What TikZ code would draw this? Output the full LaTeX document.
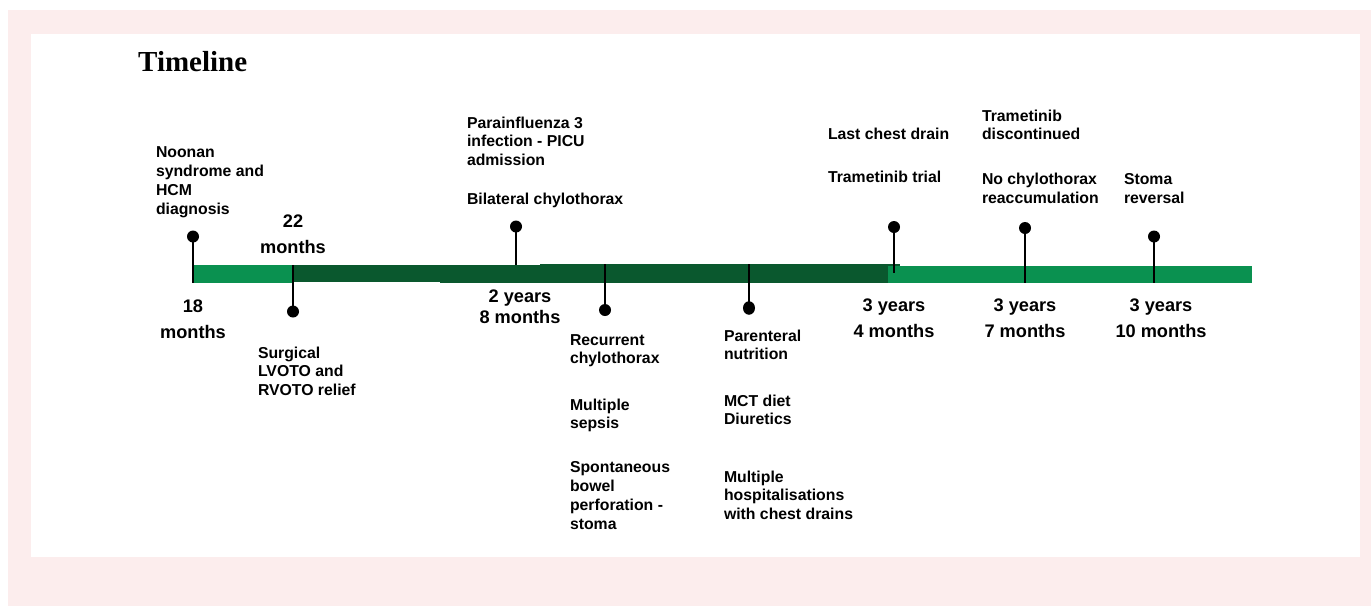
\documentclass[tikz,border=0pt]{standalone}
\usepackage{fontspec}
\usetikzlibrary{shapes.geometric}
\setmainfont{Liberation Sans}
\newfontfamily\titlefont{Liberation Serif}
\definecolor{pinkbg}{RGB}{252,237,237}
\definecolor{lightgr}{RGB}{10,145,80}
\definecolor{darkgr}{RGB}{10,88,46}
\begin{document}
\begin{tikzpicture}[x=1pt,y=-1pt,
  lbl/.style={inner sep=0pt, outer sep=0pt, align=left, anchor=base west,
    font=\bfseries\fontsize{15.8}{18.7}\selectfont},
  tlbl/.style={inner sep=0pt, outer sep=0pt, align=center, anchor=base,
    font=\bfseries\fontsize{18.2}{26}\selectfont},
  dot/.style={circle, fill=black, inner sep=0pt, minimum size=12pt},
  stem/.style={draw=black, line width=1.4pt}]
\useasboundingbox (0,0) rectangle (1371,606);
\fill[white] (0,0) rectangle (1371,606);
\fill[pinkbg] (8,10) rectangle (1371,606);
\fill[white] (31,34) rectangle (1360,557);
% title
\node[inner sep=0pt, anchor=base west, font=\titlefont\bfseries\fontsize{29}{32}\selectfont] (title) at (138,71) {Timeline};
% bar
\fill[lightgr] (192,265) rectangle (294,283);
\fill[darkgr] (293,265) rectangle (442,281.5);
\fill[darkgr] (440,265) rectangle (540,283);
\fill[darkgr] (540,263.5) rectangle (900,283);
\fill[lightgr] (888,266) rectangle (1252,283);
% dots and stems
\node[dot] (d1) at (193,236.5) {};
\coordinate (b1) at (193,283);
\node[dot] (d2) at (293,311.5) {};
\coordinate (b2) at (293,265);
\node[dot] (d3) at (516,226.5) {};
\coordinate (b3) at (516,265);
\node[dot] (d4) at (605,310) {};
\coordinate (b4) at (605,264);
\node[ellipse, fill=black, inner sep=0pt, minimum width=12pt, minimum height=13.5pt] (d5) at (749,308) {};
\coordinate (b5) at (749,264);
\node[dot] (d6) at (894,227) {};
\coordinate (b6) at (894,273);
\node[dot] (d7) at (1025,228) {};
\coordinate (b7) at (1025,283);
\node[dot] (d8) at (1154,236.5) {};
\coordinate (b8) at (1154,283);
\foreach \i in {1,...,8} {\draw[stem] (d\i.center) -- (b\i);}
% time labels (anchor = baseline of last line)
\node[tlbl] (t1) at (193,338) {18\\months};
\node[tlbl] (t2) at (293,253) {22\\months};
\node[tlbl, font=\bfseries\fontsize{18.2}{21.5}\selectfont] (t3) at (520,323.5) {2 years\\8 months};
\node[tlbl] (t6) at (894,337) {3 years\\4 months};
\node[tlbl] (t7) at (1025,337) {3 years\\7 months};
\node[tlbl] (t8) at (1161,337) {3 years\\10 months};
% event labels (anchor = baseline of last line)
\node[lbl] (e1) at (156,214) {Noonan\\syndrome and\\HCM\\diagnosis};
\node[lbl] (e2) at (258,395.4) {Surgical\\LVOTO and\\RVOTO relief};
\node[lbl] (e3a) at (467,165.4) {Parainfluenza 3\\infection - PICU\\admission};
\node[lbl] (e3b) at (467,204) {Bilateral chylothorax};
\node[lbl] (e4a) at (570,363.7) {Recurrent\\chylothorax};
\node[lbl] (e4b) at (570,428.7) {Multiple\\sepsis};
\node[lbl] (e4c) at (570,529) {Spontaneous\\bowel\\perforation -\\stoma};
\node[lbl] (e5a) at (724,359.7) {Parenteral\\nutrition};
\node[lbl] (e5b) at (724,424.7) {MCT diet\\Diuretics};
\node[lbl] (e5c) at (724,519.4) {Multiple\\hospitalisations\\with chest drains};
\node[lbl] (e6a) at (828,139) {Last chest drain};
\node[lbl] (e6b) at (828,182) {Trametinib trial};
\node[lbl] (e7a) at (982,139.7) {Trametinib\\discontinued};
\node[lbl] (e7b) at (982,203) {No chylothorax\\reaccumulation};
\node[lbl] (e8) at (1124,203) {Stoma\\reversal};
\end{tikzpicture}
\end{document}
